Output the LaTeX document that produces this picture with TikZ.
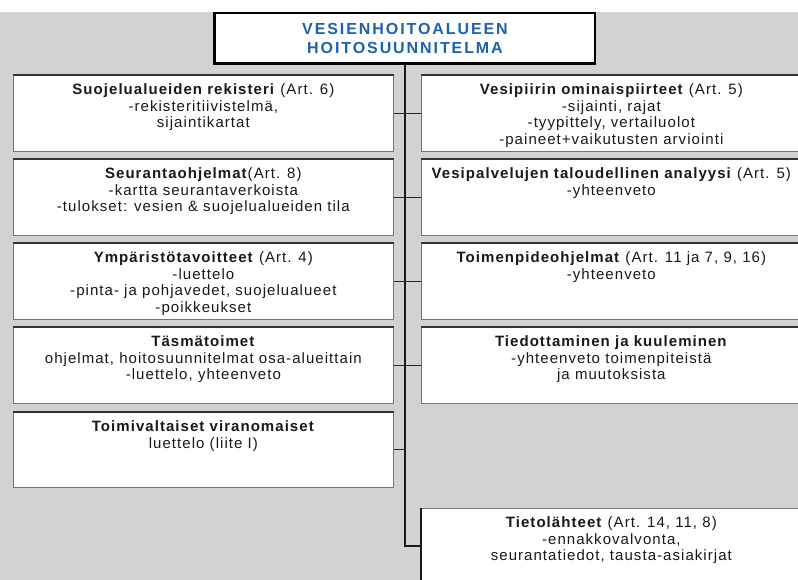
\documentclass[tikz,border=0pt]{standalone}
\usepackage{fontspec}
\newfontfamily\bodyfont{Liberation Sans}[LetterSpace=7]
\newfontfamily\headfont{Liberation Sans}[LetterSpace=12]
\definecolor{bggray}{RGB}{210,210,210}
\definecolor{titleblue}{RGB}{28,98,172}
\definecolor{inkc}{RGB}{25,25,25}
\tikzset{
  panel/.style={rectangle, draw=black!55, line width=0.7pt, fill=white, inner sep=0pt,
    minimum width=380pt, minimum height=76pt, anchor=north west},
  paneltext/.style={anchor=north, inner sep=0pt, align=center, text=inkc,
    font=\bodyfont\fontsize{15}{16.5}\selectfont},
  topedge/.style={line width=1.6pt, draw=black!80},
  tickline/.style={draw=black!85, line width=1.1pt},
  trunkline/.style={draw=black!90, line width=1.4pt},
}
\newcommand{\fl}{\rule{0pt}{12pt}}
\begin{document}
\begin{tikzpicture}[x=1pt,y=-1pt]
\useasboundingbox (0,0) rectangle (798,580);
\clip (0,0) rectangle (798,580);
\fill[bggray] (0,12) rectangle (798,580);

% title
\node[rectangle, draw=black, line width=1.4pt, fill=white, minimum width=380pt, minimum height=50pt,
  inner sep=0pt, align=center, text=titleblue, font=\headfont\bfseries\fontsize{16}{19}\selectfont]
  (title) at (405,38) {VESIENHOITOALUEEN\\HOITOSUUNNITELMA};
\draw[line width=2.6pt, draw=black] (title.north west) -- (title.south west) -- (title.south east);

% left panels
\node[panel] (L1) at (13,75) {};
\node[panel] (L2) at (13,159) {};
\node[panel] (L3) at (13,243) {};
\node[panel] (L4) at (13,327) {};
\node[panel, minimum height=75pt] (L5) at (13,412) {};
% right panels
\node[panel] (R1) at (421,75) {};
\node[panel] (R2) at (421,159) {};
\node[panel] (R3) at (421,243) {};
\node[panel] (R4) at (421,327) {};
\node[panel, minimum height=80pt] (R6) at (421,508) {};

\foreach \b in {L1,L2,L3,L4,L5,R1,R2,R3,R4}{
  \draw[topedge] (\b.north west) -- (\b.north east);
}
\draw[line width=1.8pt, draw=black!90] (R6.north west) -- (R6.south west);

% texts
\node[paneltext] (tL1) at ([yshift=-7.5pt]L1.north) {\fl\textbf{Suojelualueiden rekisteri} (Art. 6)\\-rekisteritiivistelmä,\\sijaintikartat};
\node[paneltext] (tL2) at ([yshift=-7.5pt]L2.north) {\fl\textbf{Seurantaohjelmat}(Art. 8)\\-kartta seurantaverkoista\\-tulokset: vesien \& suojelualueiden tila};
\node[paneltext] (tL3) at ([yshift=-7.5pt]L3.north) {\fl\textbf{Ympäristötavoitteet} (Art. 4)\\-luettelo\\-pinta- ja pohjavedet, suojelualueet\\-poikkeukset};
\node[paneltext] (tL4) at ([yshift=-7.5pt]L4.north) {\fl\textbf{Täsmätoimet}\\ohjelmat, hoitosuunnitelmat osa-alueittain\\-luettelo, yhteenveto};
\node[paneltext] (tL5) at ([yshift=-7.5pt]L5.north) {\fl\textbf{Toimivaltaiset viranomaiset}\\luettelo (liite I)};

\node[paneltext] (tR1) at ([yshift=-7.5pt]R1.north) {\fl\textbf{Vesipiirin ominaispiirteet} (Art. 5)\\-sijainti, rajat\\-tyypittely, vertailuolot\\-paineet+vaikutusten arviointi};
\node[paneltext] (tR2) at ([yshift=-7.5pt]R2.north) {\fl\textbf{Vesipalvelujen taloudellinen analyysi} (Art. 5)\\-yhteenveto};
\node[paneltext] (tR3) at ([yshift=-7.5pt]R3.north) {\fl\textbf{Toimenpideohjelmat} (Art. 11 ja 7, 9, 16)\\-yhteenveto};
\node[paneltext] (tR4) at ([yshift=-7.5pt]R4.north) {\fl\textbf{Tiedottaminen ja kuuleminen}\\-yhteenveto toimenpiteistä\\ja muutoksista};
\node[paneltext] (tR6) at ([yshift=-7.5pt]R6.north) {\fl\textbf{Tietolähteet} (Art. 14, 11, 8)\\-ennakkovalvonta,\\seurantatiedot, tausta-asiakirjat};

% connectors
\coordinate (bend) at (title.south |- 0,546);
\coordinate (t5) at (title.south |- L5.east);
\draw[tickline] (L1.east) -- (R1.west);
\draw[tickline] (L2.east) -- (R2.west);
\draw[tickline] (L3.east) -- (R3.west);
\draw[tickline] (L4.east) -- (R4.west);
\draw[tickline] (L5.east) -- (t5);
\draw[trunkline] (title.south) -- (bend) -- (bend -| R6.west);
\end{tikzpicture}
\end{document}
